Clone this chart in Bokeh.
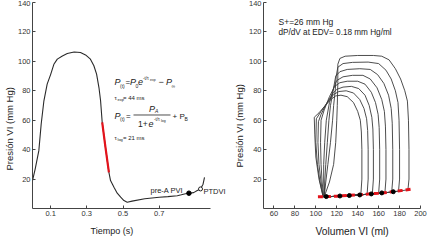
import math
from bokeh.plotting import figure
from bokeh.layouts import row
from bokeh.models import Range1d, FixedTicker, Label, Title
from bokeh.embed import file_html
from bokeh.resources import INLINE

# ---------------- Left panel: LV pressure vs time ----------------
time_s = [0.0, 0.015, 0.035, 0.048, 0.063, 0.081, 0.100, 0.118, 0.137, 0.165,
          0.192, 0.230, 0.265, 0.293, 0.320, 0.339, 0.354, 0.367, 0.376, 0.385]
pres_mmHg = [19, 27, 39.3, 57.4, 73.2, 84.5, 91, 98, 101.5, 103.7,
             105.3, 106.4, 106, 104.4, 101.5, 97, 91.3, 82.2, 73.2, 58.5]
red_time = [0.385, 0.403, 0.422]
red_pres = [58.5, 41.6, 24.6]
tail_time = [0.422, 0.431, 0.45, 0.468, 0.487, 0.505, 0.523, 0.55, 0.62, 0.70,
             0.748, 0.80, 0.822, 0.845, 0.864, 0.89, 0.91, 0.928, 0.942, 0.95]
tail_pres = [24.6, 19, 14.5, 10.4, 7.7, 5.4, 4.3, 5.0, 6.6, 7.6,
             8.1, 8.7, 9.3, 10.0, 10.4, 10.8, 12.2, 13.3, 16.5, 21.2]
preA_point = (0.864, 10.4)
ptdvi_point = (0.928, 13.3)
time_ticks = [0.1, 0.3, 0.5, 0.7]
pres_ticks = [20, 40, 60, 80, 100, 120, 140]

# ---------------- Right panel: PV loops ----------------
loop1_vol = [108, 120, 135, 150, 165, 178, 188, 189, 189, 188.5, 187.5, 185, 181, 176, 170, 163,
             155, 140, 128, 123, 121, 121, 120.5, 120, 119, 117, 113, 108]
loop1_pres = [7.9, 8.3, 8.9, 9.7, 10.6, 11.7, 12.7, 20, 40, 60, 73, 80, 88, 95, 101, 103.5,
              104, 104, 103.5, 102, 98, 85, 70, 60, 45, 30, 18, 7.9]
loop2_vol = [108, 120, 135, 150, 165, 179, 180, 180, 179.5, 178.5, 176, 172, 167, 160,
             150, 135, 126, 121, 119.5, 118.5, 117, 116, 114, 111.5, 109.5, 108]
loop2_pres = [7.9, 8.3, 8.9, 9.7, 10.6, 11.8, 20, 40, 60, 72, 80, 88, 94, 98.5,
              99.5, 99.3, 98.5, 96, 90, 80, 70, 60, 45, 30, 18, 7.9]
loop3_vol = [108, 120, 135, 150, 162, 172.5, 173.5, 173.5, 173, 172, 169.5, 165, 159, 152,
             142, 130, 123, 119, 117, 114, 112.5, 111, 109.5, 108.5, 108]
loop3_pres = [7.9, 8.3, 8.9, 9.7, 10.4, 11.2, 20, 40, 58, 68, 77, 85, 91, 94.5,
              95, 94.5, 93, 90, 82, 70, 60, 45, 30, 18, 7.9]
loop4_vol = [108, 120, 135, 150, 166, 167, 167, 166.5, 165.5, 163, 158.5, 152, 145,
             135, 126, 120, 117, 113, 110, 108.5, 107.5, 107.5, 108]
loop4_pres = [7.9, 8.3, 8.9, 9.7, 10.7, 20, 40, 56, 66, 74, 82, 88, 90.5,
              90.5, 89.5, 87, 82, 72, 60, 45, 30, 18, 7.9]
loop5_vol = [107.5, 120, 135, 148, 160, 161, 161, 160.5, 159.5, 157, 153, 147, 140,
             130, 123, 118, 113, 108, 105, 104.5, 105, 106, 107.5]
loop5_pres = [7.9, 8.3, 8.9, 9.6, 10.3, 20, 40, 55, 64, 72, 79, 84.5, 86.5,
              86.5, 85.5, 83, 76, 67, 60, 45, 30, 18, 7.9]
loop6_vol = [107, 120, 135, 145, 154, 155, 155, 154.5, 153.5, 151, 147, 141, 134,
             126, 120, 116, 110, 105, 102.5, 102, 103, 105, 107]
loop6_pres = [7.9, 8.3, 8.9, 9.4, 10.0, 20, 40, 54, 62, 70, 77, 81.5, 83,
              82.5, 81, 78, 71, 64, 59, 45, 30, 18, 7.9]
loop7_vol = [107, 120, 135, 149, 150, 150, 149.5, 148.5, 146, 142, 136, 129,
             122, 117, 111, 105, 100.5, 100, 101.5, 104, 107]
loop7_pres = [7.9, 8.3, 8.9, 9.7, 20, 40, 53, 61, 68, 74, 78.5, 80,
              79.5, 77.5, 72, 66, 61, 45, 30, 18, 7.9]
loop8_vol = [107, 120, 132, 143, 144, 144, 143.5, 142.5, 140, 136, 130, 124,
             119, 115, 109, 103, 98.5, 99, 100, 103, 107]
loop8_pres = [7.9, 8.3, 8.8, 9.3, 20, 40, 52, 60, 66, 72, 76, 77,
              76.5, 74.5, 70, 65, 62, 50, 35, 20, 7.9]
edpvr_vol = [102, 110, 120, 130, 140, 150, 160, 170, 180, 191]
edpvr_pres = [8.0, 8.1, 8.4, 8.8, 9.3, 9.8, 10.4, 11.1, 12.0, 13.2]
edv_dot_vol = [110, 123, 132, 142, 153, 163, 174]
edv_dot_pres = [8.1, 8.5, 8.8, 9.2, 9.9, 10.6, 11.4]
vol_ticks = [60, 80, 100, 120, 140, 160, 180, 200]

FONT = "Liberation Sans"
INK = "#222222"
AXIS = "#444444"


def style(p):
    p.outline_line_color = None
    p.grid.visible = False
    for ax in (p.xaxis[0], p.yaxis[0]):
        ax.axis_line_color = AXIS
        ax.major_tick_line_color = AXIS
        ax.major_tick_in = 3
        ax.major_tick_out = 0
        ax.minor_tick_line_color = None
        ax.major_label_text_font = FONT
        ax.major_label_text_font_size = "7.5px"
        ax.major_label_text_color = "#333333"
    p.xaxis[0].major_label_standoff = 2
    p.yaxis[0].major_label_standoff = 2


# pixel -> data helpers for annotation placement inside the frame
def lx(px):
    return (px - 32) / 181.07


def ly(py):
    return (208 - py) / 1.4714


def rx(px):
    return 50 + (px - 263) / 1.0467


def lab(p, x, y, text, size, style_="normal", align="left", color=INK):
    p.add_layout(Label(x=x, y=y, text=text, text_font=FONT, text_font_size=size,
                       text_font_style=style_, text_align=align, text_baseline="middle",
                       text_color=color))


def side_title(p, side, text, size, offset, standoff):
    p.add_layout(Title(text=text, text_font=FONT, text_font_size=size, text_font_style="normal",
                       text_color=INK, align="left", offset=offset, standoff=standoff), side)


# ---------------- Left figure ----------------
# frame reaches a bit past the axis end so that the "PTDVI" note is not cut
left = figure(width=228, height=241, x_range=Range1d(0, 1.077), y_range=Range1d(0, 140),
              output_backend="svg", toolbar_location=None,
              min_border_left=32, min_border_right=1, min_border_top=2, min_border_bottom=33)
style(left)
left.xaxis.ticker = FixedTicker(ticks=time_ticks)
left.xaxis.bounds = (0, 0.983)
left.yaxis.ticker = FixedTicker(ticks=pres_ticks)

full_t = time_s + red_time[1:] + tail_time[1:]
full_p = pres_mmHg + red_pres[1:] + tail_pres[1:]
left.line(full_t, full_p, line_color="#2a2a2a", line_width=1.1)
left.line(red_time, red_pres, line_color="#e3131b", line_width=2.2)
left.scatter([preA_point[0]], [preA_point[1]], size=4.5, color="black")
left.scatter([ptdvi_point[0]], [ptdvi_point[1]], size=4, fill_color="white", line_color="#222222")

lab(left, lx(150), ly(190.5), "pre-A PVI", "7.5px")
lab(left, lx(203), ly(191.5), "PTDVI", "7.5px")

side_title(left, "left", "Presión VI (mm Hg)", "9.5px", 38, 0)
side_title(left, "below", "Tiempo (s)", "9px", 58, 10)

# equations
lab(left, lx(114), ly(82), "P", "9px", "italic")
lab(left, lx(119.5), ly(85.5), "(t)", "5px")
lab(left, lx(125), ly(82), "=", "8px")
lab(left, lx(129.5), ly(82), "P", "9px", "italic")
lab(left, lx(135), ly(85.5), "0", "5px")
lab(left, lx(137.5), ly(82), "e", "9px", "italic")
lab(left, lx(142.5), ly(78.5), "-t/τ", "4.5px")
lab(left, lx(149.5), ly(80), "exp", "3.5px")
lab(left, lx(158), ly(82), "−", "9px")
lab(left, lx(165.5), ly(82), "P", "9px", "italic")
lab(left, lx(171), ly(85.5), "∞", "5px")

lab(left, lx(114), ly(97.5), "τ", "6px")
lab(left, lx(117), ly(99), "exp", "4px")
lab(left, lx(122.5), ly(97.5), "= 44 ms", "6px")

lab(left, lx(114), ly(116), "P", "9px", "italic")
lab(left, lx(119.5), ly(119), "(t)", "5px")
lab(left, lx(125.5), ly(116), "=", "8px")
lab(left, lx(148.5), ly(108.5), "P", "9px", "italic")
lab(left, lx(154.5), ly(111), "A", "5px", "italic")
left.segment(x0=[lx(133)], y0=[ly(114.5)], x1=[lx(170)], y1=[ly(114.5)],
             line_color=INK, line_width=0.8)
lab(left, lx(137.5), ly(123.5), "1+", "8.5px")
lab(left, lx(148), ly(123.5), "e", "9px", "italic")
lab(left, lx(153.5), ly(119.5), "-t/τ", "4.5px")
lab(left, lx(160.5), ly(121), "log", "3.5px")
lab(left, lx(172), ly(116), "+ P", "8px")
lab(left, lx(184), ly(119), "B", "5px")

lab(left, lx(114), ly(138), "τ", "6px")
lab(left, lx(117), ly(139.5), "log", "4px")
lab(left, lx(122.5), ly(138), "= 21 ms", "6px")

# ---------------- Right figure ----------------
right = figure(width=201, height=241, x_range=Range1d(50, 200), y_range=Range1d(0, 140),
               output_backend="svg", toolbar_location=None,
               min_border_left=35, min_border_right=9, min_border_top=2, min_border_bottom=33)
style(right)
right.xaxis.ticker = FixedTicker(ticks=vol_ticks)
right.yaxis.ticker = FixedTicker(ticks=pres_ticks)

loops = [(loop1_vol, loop1_pres), (loop2_vol, loop2_pres), (loop3_vol, loop3_pres),
         (loop4_vol, loop4_pres), (loop5_vol, loop5_pres), (loop6_vol, loop6_pres),
         (loop7_vol, loop7_pres), (loop8_vol, loop8_pres)]
for v, pr in loops:
    right.line(v, pr, line_color="#3a3a3a", line_width=0.9)

right.line(edpvr_vol, edpvr_pres, line_color="#e3131b", line_width=3, line_dash="5 3")
right.scatter(edv_dot_vol, edv_dot_pres, size=4, color="black")

lab(right, rx(278), ly(22), "S+=26 mm Hg", "8.5px")
lab(right, rx(278), ly(32.5), "dP/dV at EDV= 0.18 mm Hg/ml", "8.2px")
side_title(right, "left", "Presión VI (mm Hg)", "9.5px", 41, 2)
side_title(right, "below", "Volumen VI (ml)", "10.3px", 52, 10)

layout = row(left, right)
open("out.html", "w").write(file_html(layout, INLINE))
